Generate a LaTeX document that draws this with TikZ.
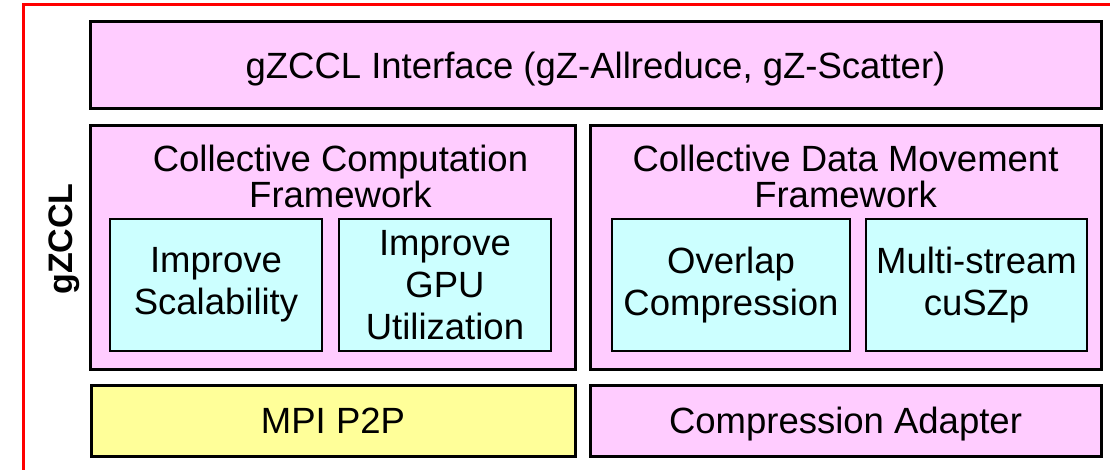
\documentclass[tikz,border=0pt]{standalone}
\usepackage{fontspec}
\setmainfont{Liberation Sans}
\definecolor{pinkfill}{HTML}{FFCCFF}
\definecolor{cyanfill}{HTML}{CCFFFF}
\definecolor{yellowfill}{HTML}{FFFF99}
\definecolor{redframe}{HTML}{FF0000}
\begin{document}
\begin{tikzpicture}[x=1pt,y=-1pt,
  bigbox/.style={draw=black, line width=3pt, fill=pinkfill, rectangle, inner sep=0pt, outer sep=0pt},
  subbox/.style={draw=black, line width=1.8pt, fill=cyanfill, rectangle, inner sep=0pt, outer sep=0pt, align=center,
     font=\fontsize{36.5}{42}\selectfont},
  titletext/.style={align=center, inner sep=0pt, font=\fontsize{36.5}{36}\selectfont},
  boxtext/.style={font=\fontsize{36.5}{42}\selectfont, align=center, text depth=0pt}]
\useasboundingbox (0,0) rectangle (1110,470);
\clip (0,0) rectangle (1110,470);
\fill[white] (0,0) rectangle (1110,470);
\draw[redframe, line width=3pt] (23,5) rectangle (1140,500);
% top interface
\node[bigbox, minimum width=1011pt, minimum height=87pt, boxtext] (iface) at (595.5,65.5)
  {gZCCL Interface (gZ-Allreduce, gZ-Scatter)};
% middle frameworks
\node[bigbox, minimum width=485pt, minimum height=243pt] (ccf) at (332.5,247.5) {};
\node[bigbox, minimum width=511pt, minimum height=243pt] (cdm) at (845.5,247.5) {};
\node[titletext] (ccft) at (340.5,176) {Collective Computation\\Framework};
\node[titletext] (cdmt) at (845.5,176) {Collective Data Movement\\Framework};
% sub boxes
\node[subbox, minimum width=212pt, minimum height=132pt] (scal) at (216,285) {Improve\\Scalability};
\node[subbox, minimum width=212pt, minimum height=132pt] (gpu) at (445,285) {Improve\\GPU\\Utilization};
\node[subbox, minimum width=238pt, minimum height=132pt] (ovl) at (731,285) {Overlap\\Compression};
\node[subbox, minimum width=221pt, minimum height=132pt] (msc) at (976.5,285) {Multi-stream\\cuSZp};
% bottom
\node[bigbox, fill=yellowfill, minimum width=484pt, minimum height=71pt, boxtext] (mpi) at (333,420.5) {MPI P2P};
\node[bigbox, minimum width=511pt, minimum height=71pt, boxtext] (adapt) at (845.5,420.5) {Compression Adapter};
% side label
\node[rotate=90, font=\fontsize{34}{38}\selectfont\bfseries, inner sep=0pt] (side) at (64,239) {gZCCL};
\end{tikzpicture}
\end{document}
